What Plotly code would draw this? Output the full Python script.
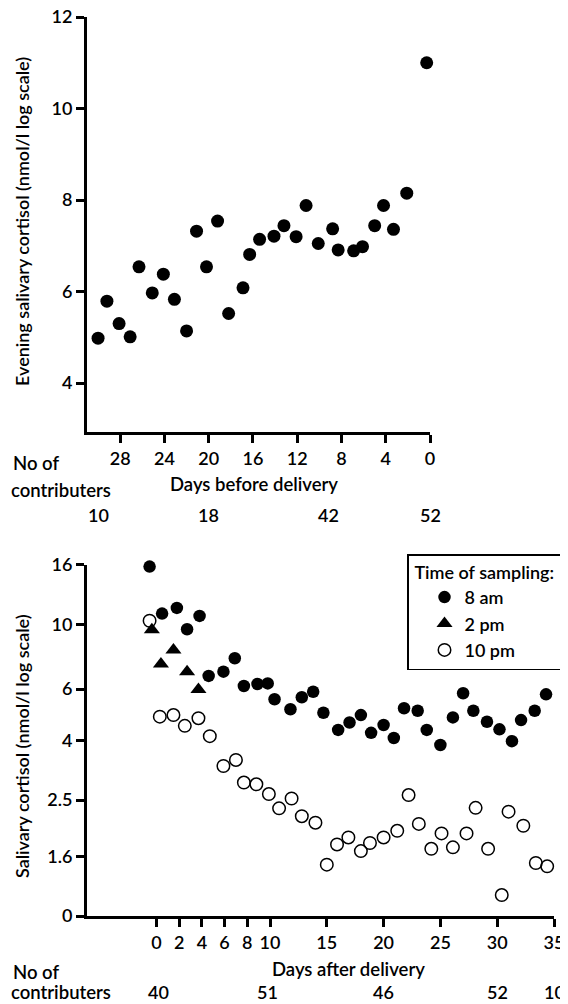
import plotly.graph_objects as go

# The page body has an 8px default margin, so the figure is 8px smaller than the window
# on each axis and reference pixel coordinates are shifted by that offset.
OFF = 8
W, H = 568 - OFF, 1004 - OFF
FONT = "Lato"
WEIGHT = 600

# ---------------- data ----------------
# Top panel: evening salivary cortisol, days before delivery
top_days = [30.0, 29.2, 28.1, 27.1, 26.3, 25.1, 24.1, 23.1, 22.0, 21.1, 20.2, 19.2, 18.2,
            16.9, 16.3, 15.4, 14.1, 13.2, 12.1, 11.2, 10.1, 8.8, 8.3, 6.9, 6.1, 5.0, 4.2,
            3.3, 2.1, 0.3]
top_cortisol = [4.98, 5.79, 5.30, 5.01, 6.54, 5.97, 6.38, 5.83, 5.14, 7.32, 6.54, 7.54, 5.52,
                6.08, 6.81, 7.14, 7.21, 7.44, 7.20, 7.88, 7.05, 7.37, 6.91, 6.89, 6.98, 7.44,
                7.88, 7.36, 8.15, 11.0]
top_y_ticks = [4, 6, 8, 10, 12]
top_x_ticks = [0, 4, 8, 12, 16, 20, 24, 28]
top_contrib_days = [30, 20, 9.2, 0]
top_contrib_n = ["10", "18", "42", "52"]

# Bottom panel: salivary cortisol by time of sampling, days after delivery
am8_days = [-0.6, 0.5, 1.8, 2.7, 3.8, 4.6, 5.9, 6.9, 7.7, 8.9, 9.8, 10.4, 11.8, 12.8, 13.8,
            14.7, 16.0, 17.0, 18.0, 18.9, 20.0, 20.9, 21.8, 23.0, 23.8, 25.0, 26.1, 27.0,
            27.9, 29.1, 30.2, 31.3, 32.1, 33.3, 34.3]
am8_vals = [15.8, 10.9, 11.4, 9.63, 10.7, 6.66, 6.89, 7.66, 6.15, 6.25, 6.28, 5.54, 5.12,
            5.63, 5.88, 4.98, 4.35, 4.61, 4.89, 4.25, 4.52, 4.08, 5.16, 5.06, 4.35, 3.86,
            4.80, 5.81, 5.06, 4.64, 4.37, 3.98, 4.70, 5.06, 5.76]
pm2_days = [-0.4, 0.4, 1.5, 2.7, 3.7]
pm2_vals = [9.6, 7.32, 8.18, 6.89, 5.99]
pm10_days = [-0.6, 0.3, 1.5, 2.5, 3.7, 4.7, 5.9, 7.0, 7.7, 8.8, 9.9, 10.8, 11.9, 12.8, 14.0,
             15.0, 15.9, 16.9, 18.0, 18.8, 20.0, 21.2, 22.2, 23.1, 24.2, 25.1, 26.1, 27.3,
             28.1, 29.2, 30.4, 31.0, 32.3, 33.4, 34.4]
pm10_vals = [10.3, 4.83, 4.89, 4.49, 4.77, 4.14, 3.27, 3.43, 2.87, 2.83, 2.62, 2.34, 2.53,
             2.20, 2.09, 1.50, 1.76, 1.86, 1.67, 1.78, 1.86, 1.96, 2.60, 2.07, 1.70, 1.92,
             1.72, 1.92, 2.35, 1.70, 1.18, 2.28, 2.04, 1.52, 1.48]
bot_x_ticks = [0, 2, 4, 6, 8, 10, 15, 20, 25, 30, 35]
bot_y_ticks = [1, 1.6, 2.5, 4, 6, 10, 16]
bot_y_text = ["0", "1.6", "2.5", "4", "6", "10", "16"]
bot_contrib_days = [0.2, 9.8, 20, 30, 35]
bot_contrib_n = ["40", "51", "46", "52", "10"]


def px(x):
    return (x - OFF) / W


def py(y):
    return 1 - (y - OFF) / H


def f(size):
    return dict(family=FONT, size=size, color="black", weight=WEIGHT)


fig = go.Figure()

fig.add_trace(go.Scatter(
    x=top_days, y=top_cortisol, mode="markers", xaxis="x", yaxis="y",
    marker=dict(symbol="circle", size=13, color="black"),
    showlegend=False, cliponaxis=False))

fig.add_trace(go.Scatter(
    x=am8_days, y=am8_vals, mode="markers", xaxis="x2", yaxis="y2", name="8 am",
    marker=dict(symbol="circle", size=12.5, color="black"), cliponaxis=False))
fig.add_trace(go.Scatter(
    x=pm2_days, y=pm2_vals, mode="markers", xaxis="x2", yaxis="y2", name="2 pm",
    marker=dict(symbol="triangle-up", size=14, color="black"), cliponaxis=False))
fig.add_trace(go.Scatter(
    x=pm10_days, y=pm10_vals, mode="markers", xaxis="x2", yaxis="y2", name="10 pm",
    marker=dict(symbol="circle-open", size=12.5, color="black", line=dict(width=1.5)),
    cliponaxis=False))

axis_common = dict(showline=True, linecolor="black", linewidth=3, ticks="outside",
                   ticklen=8, tickwidth=2.5, tickcolor="black", showgrid=False,
                   zeroline=False, automargin=False, ticklabeloverflow="allow",
                   tickfont=f(18))

fig.update_layout(
    width=W, height=H,
    margin=dict(l=0, r=0, t=0, b=0, autoexpand=False),
    paper_bgcolor="white", plot_bgcolor="white",
    font=dict(family=FONT, color="black", size=17),
    xaxis=dict(domain=[px(87), px(430)], range=[31, 0], anchor="y",
               tickvals=top_x_ticks, **axis_common),
    yaxis=dict(domain=[py(432), py(17)], range=[2.93, 12], anchor="x",
               tickvals=top_y_ticks, **axis_common),
    xaxis2=dict(domain=[px(87), px(554)], range=[-6.11, 35], anchor="y2",
                tickvals=bot_x_ticks, **axis_common),
    yaxis2=dict(domain=[py(916), py(565)], type="log", range=[0, 1.2041], anchor="x2",
                tickvals=bot_y_ticks, ticktext=bot_y_text, **axis_common),
    legend=dict(x=px(563), y=py(554), xanchor="right", yanchor="top",
                bordercolor="black", borderwidth=1.5, bgcolor="white",
                font=f(18),
                title=dict(text="\u00a0Time of sampling:\u00a0", font=f(18)),
                indentation=16, tracegroupgap=0),
)

ann = []


def text(t, x, y, xanchor="center", size=18.5, angle=0):
    ann.append(dict(text=t, x=px(x), y=py(y), xref="paper", yref="paper",
                    xanchor=xanchor, yanchor="middle", showarrow=False, textangle=angle,
                    font=f(size)))


# top panel labels
text("Evening salivary cortisol (nmol/l log scale)", 22, 222, size=18, angle=-90)
text("No of", 11, 463, xanchor="left")
text("contributers", 9, 490, xanchor="left")
text("Days before delivery", 254, 484)
for d, n in zip(top_contrib_days, top_contrib_n):
    ann.append(dict(text=n, x=d, y=py(515), xref="x", yref="paper", showarrow=False,
                    xanchor="center", yanchor="middle", font=f(18)))

# bottom panel labels
text("Salivary cortisol (nmol/l log scale)", 22, 746, size=18, angle=-90)
text("No of", 11, 972, xanchor="left")
text("contributers", 9, 992, xanchor="left")
text("Days after delivery", 348, 969)
for d, n in zip(bot_contrib_days, bot_contrib_n):
    ann.append(dict(text=n, x=d, y=py(992), xref="x2", yref="paper", showarrow=False,
                    xanchor="center", yanchor="middle", font=f(18)))

fig.update_layout(annotations=ann)

fig.write_html("out.html")
